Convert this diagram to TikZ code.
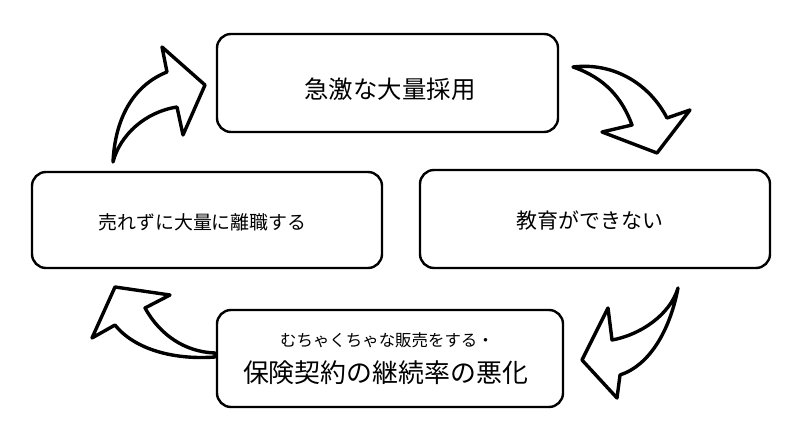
\documentclass[tikz,border=0pt]{standalone}
\usepackage{fontspec}
\newfontfamily\jp{Noto Sans CJK JP}
\begin{document}
\begin{tikzpicture}[x=1bp,y=-1bp,
  box/.style={draw=black,line width=2.4bp,rounded corners=14bp,inner sep=0pt,font=\jp},
  blockarrow/.style={draw=black,fill=white,line width=3.4bp,line join=round}]
\useasboundingbox (0,0) rectangle (791,437);
\fill[white] (0,0) rectangle (791,437);
% boxes
\node[box,minimum width=341bp,minimum height=98bp] (top) at (387.5,83) {};
\node[font=\jp\fontsize{24.5}{28}\selectfont] (toptxt) at (390,89) {急激な大量採用};
\node[box,minimum width=350bp,minimum height=96bp] (left) at (207,220) {};
\node[font=\jp\fontsize{19}{22}\selectfont] (lefttxt) at (202.5,222) {売れずに大量に離職する};
\node[box,minimum width=350bp,minimum height=98bp] (right) at (595,219) {};
\node[font=\jp\fontsize{21}{24}\selectfont] (righttxt) at (590,221) {教育ができない};
\node[box,minimum width=346bp,minimum height=97bp] (bottom) at (390,358.5) {};
\node[font=\jp\fontsize{16.5}{19}\selectfont] (bottxt1) at (387,340) {むちゃくちゃな販売をする・};
\node[font=\jp\fontsize{26}{30}\selectfont] (bottxt2) at (385.5,373) {保険契約の継続率の悪化};
% block arrows
\draw[blockarrow] (113,162) .. controls (115,120) and (132,86) .. (167,72) -- (162,47) -- (205,85) -- (183,135) -- (177,107) .. controls (145,112) and (120,135) .. (113,162) -- cycle;
\draw[blockarrow] (573,67) .. controls (615,62) and (650,85) .. (667,118) -- (690,110) -- (657,153) -- (602,132) -- (632,125) .. controls (622,98) and (605,78) .. (573,67) -- cycle;
\draw[blockarrow] (678,288) .. controls (670,330) and (650,365) .. (620,375) -- (617,398) -- (582,360) -- (608,308) -- (612,340) .. controls (640,335) and (670,315) .. (678,288) -- cycle;
\draw[blockarrow] (215,353) .. controls (185,352) and (160,335) .. (145,308) -- (170,295) -- (115,287) -- (92,338) -- (115,325) .. controls (135,350) and (175,360) .. (215,357) -- cycle;
\end{tikzpicture}
\end{document}
